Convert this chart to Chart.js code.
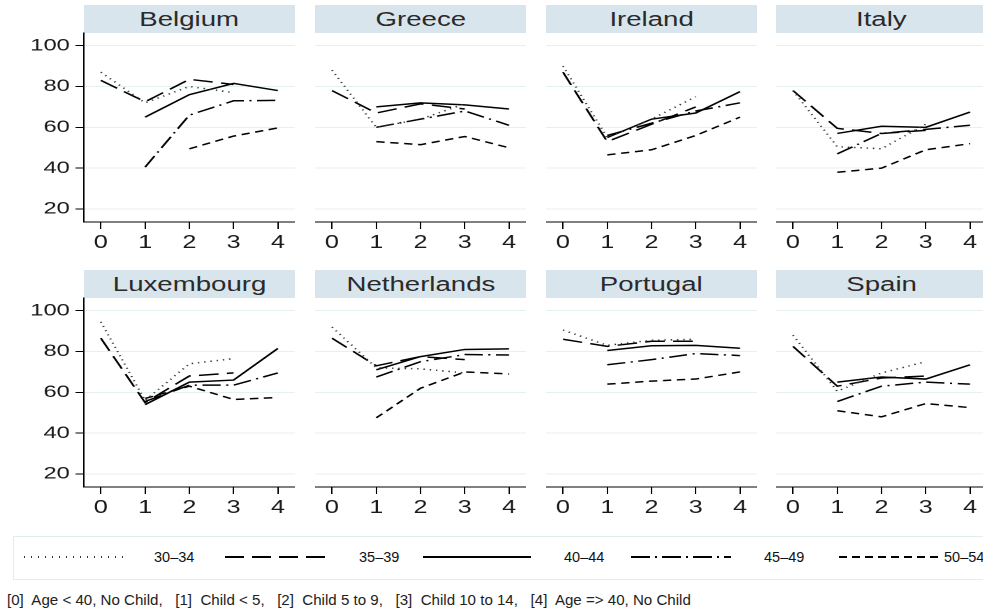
<!DOCTYPE html>
<html>
<head>
<meta charset="utf-8">
<script src="https://cdn.jsdelivr.net/npm/chart.js@4.4.1/dist/chart.umd.min.js"></script>
<style>
  body { margin: 0; width: 983px; height: 610px; overflow: hidden; background: #fff;
         font-family: "Liberation Sans", Arial, sans-serif; position: relative; }
  .strip { position: absolute; background: #d9e5ec; text-align: center; color: #2a2a2a; font-size: 20px; }
  .strip span { display: inline-block; transform: scaleX(1.38); }
  .panel { position: absolute; transform-origin: 0 0; }
  #legend { position: absolute; left: 13px; top: 536px; width: 980px; height: 44px;
            border: 1px solid #e3ecef; box-sizing: border-box; }
  #legend svg { position: absolute; left: 0; top: 0; }
  .lab { position: absolute; top: 12px; font-size: 14.5px; line-height: 16px; color: #111; white-space: nowrap; }
  #note { position: absolute; left: 7px; top: 591px; font-size: 15.1px; color: #222; white-space: pre; }
</style>
</head>
<body>
<div id="legend"></div>
<div id="note">[0]  Age &lt; 40, No Child,   [1]  Child &lt; 5,   [2]  Child 5 to 9,   [3]  Child 10 to 14,   [4]  Age =&gt; 40, No Child</div>
<script>
const countries = ['Belgium', 'Greece', 'Ireland', 'Italy', 'Luxembourg', 'Netherlands', 'Portugal', 'Spain'];
const categories = [0, 1, 2, 3, 4];
const yTicks = [20, 40, 60, 80, 100];
const ageGroups = ['30–34', '35–39', '40–44', '45–49', '50–54'];

// one row per country, same order as countries
const age3034 = [
  [87, 72, 80, 77, null],
  [88, 60, 64, 71.5, null],
  [90, 55, 64, 75, null],
  [78, 50.5, 49.5, 61.5, null],
  [94.5, 56, 74, 76.5, null],
  [92, 72, 71.5, 69.5, null],
  [90.5, 83, 85.5, 86, null],
  [88, 60.5, 69.5, 75, null]
];
const age3539 = [
  [83, 72.5, 83.5, 81, null],
  [78, 67, 71.5, 69, null],
  [87, 53, 61.5, 70, null],
  [78, 59.5, 57, 58.5, null],
  [86.5, 55, 68, 69.5, null],
  [86.5, 73, 77.5, 76, null],
  [86, 82.5, 85, 85, null],
  [82.5, 63, 67, 68, null]
];
const age4044 = [
  [null, 65, 76, 81.5, 78],
  [null, 70, 72, 71, 69],
  [null, 55, 64, 67, 77.5],
  [null, 57, 60.5, 60, 67.5],
  [null, 54, 65, 66, 81.5],
  [null, 71, 77.5, 81, 81.3],
  [null, 80.5, 82.8, 83, 81.6],
  [null, 65, 67.5, 66.5, 73.5]
];
const age4549 = [
  [null, 40.5, 66, 73, 73.2],
  [null, 60, 64, 68, 61],
  [null, 56, 62, 68, 72],
  [null, 47, 57, 59, 61],
  [null, 55.5, 63.5, 63.5, 69.5],
  [null, 67.5, 75, 78.5, 78.3],
  [null, 73.5, 76, 79, 78],
  [null, 55.5, 63, 65, 64]
];
const age5054 = [
  [null, null, 49.5, 55.7, 59.7],
  [null, 53, 51.5, 55.5, 50],
  [null, 46.5, 49, 56, 65],
  [null, 38, 40, 49, 52],
  [null, 57, 63, 56.5, 57.5],
  [null, 47.5, 62, 70, 69],
  [null, 64, 65.5, 66.5, 70],
  [null, 51, 48, 54.5, 52.5]
];
const seriesByAge = [age3034, age3539, age4044, age4549, age5054];

// styles
const lineColors = ['#333', '#000', '#000', '#000', '#000'];
const panelDash = [[1, 3.5], [14, 6], [], [13, 4, 1.5, 4], [6, 4]];
const legendDash = ['1 6', '19 8', '', '19 5 2 5', '8 5'];
const stretch = 1.3974;
const plotLeft = [84, 315, 546, 776];
const rowTop = [33, 298];
const stripTop = [5, 270];
const padTop = 16;
const family = '"Liberation Sans", Arial, sans-serif';

countries.forEach(function (name, i) {
  const col = i % 4, row = Math.floor(i / 4);

  const strip = document.createElement('div');
  strip.className = 'strip';
  strip.style.left = plotLeft[col] + 'px';
  strip.style.top = stripTop[row] + 'px';
  strip.style.width = '211px';
  strip.style.height = (rowTop[row] - stripTop[row]) + 'px';
  strip.style.lineHeight = (rowTop[row] - stripTop[row]) + 'px';
  strip.innerHTML = '<span>' + name + '</span>';
  document.body.appendChild(strip);

  const yW = col === 0 ? 60 : 0;
  const wrap = document.createElement('div');
  wrap.className = 'panel';
  wrap.style.left = (col === 0 ? 0 : plotLeft[col]) + 'px';
  wrap.style.top = (rowTop[row] - padTop) + 'px';
  wrap.style.transform = 'scaleX(' + stretch + ')';
  const canvas = document.createElement('canvas');
  canvas.width = yW + 151;
  canvas.height = 229 + padTop;
  wrap.appendChild(canvas);
  document.body.appendChild(wrap);

  new Chart(canvas, {
    type: 'line',
    data: {
      datasets: ageGroups.map(function (g, k) {
        return {
          label: g,
          data: categories.map(function (x, j) { return { x: x, y: seriesByAge[k][i][j] }; }),
          borderColor: lineColors[k],
          borderWidth: 1.5,
          borderDash: panelDash[k],
          pointRadius: 0,
          tension: 0,
          fill: false
        };
      })
    },
    options: {
      responsive: false,
      animation: false,
      devicePixelRatio: 2,
      layout: { padding: { top: padTop, left: 0, right: 0, bottom: 0 } },
      plugins: { legend: { display: false }, title: { display: false }, tooltip: { enabled: false } },
      scales: {
        x: {
          type: 'linear', min: -0.384, max: 4.384,
          afterBuildTicks: function (sc) { sc.ticks = categories.map(function (v) { return { value: v }; }); },
          afterFit: function (sc) { sc.height = 40; },
          grid: { display: true, drawOnChartArea: false, drawTicks: true, tickLength: 7, tickColor: '#000' },
          border: { display: true, color: '#000', width: 1 },
          ticks: { color: '#1a1a1a', font: { size: 18, family: family }, padding: 3, autoSkip: false, maxRotation: 0 }
        },
        y: {
          min: 13.63, max: 106.2,
          afterBuildTicks: function (sc) { sc.ticks = yTicks.map(function (v) { return { value: v }; }); },
          afterFit: function (sc) { sc.width = yW; },
          grid: { color: '#e6eff2', lineWidth: 1, drawTicks: col === 0, tickLength: 6, tickColor: '#000' },
          border: { display: col === 0, color: '#000', width: 1 },
          ticks: { display: col === 0, color: '#1a1a1a', font: { size: 17, family: family }, padding: 4 }
        }
      }
    }
  });
});

// legend (positions relative to the legend box)
const legend = document.getElementById('legend');
const lineStart = [10, 211, 409, 617, 825];
const lineEnd = [110, 312, 517, 717, 927];
const labelLeft = [140, 345, 550, 750, 930];
let svg = '<svg width="980" height="44">';
ageGroups.forEach(function (g, k) {
  svg += '<line x1="' + lineStart[k] + '" y1="20" x2="' + lineEnd[k] + '" y2="20" stroke="' +
    lineColors[k] + '" stroke-width="2"' + (legendDash[k] ? ' stroke-dasharray="' + legendDash[k] + '"' : '') + '/>';
});
svg += '</svg>';
legend.innerHTML = svg;
ageGroups.forEach(function (g, k) {
  const lab = document.createElement('div');
  lab.className = 'lab';
  lab.style.left = labelLeft[k] + 'px';
  lab.textContent = g;
  legend.appendChild(lab);
});
</script>
</body>
</html>
